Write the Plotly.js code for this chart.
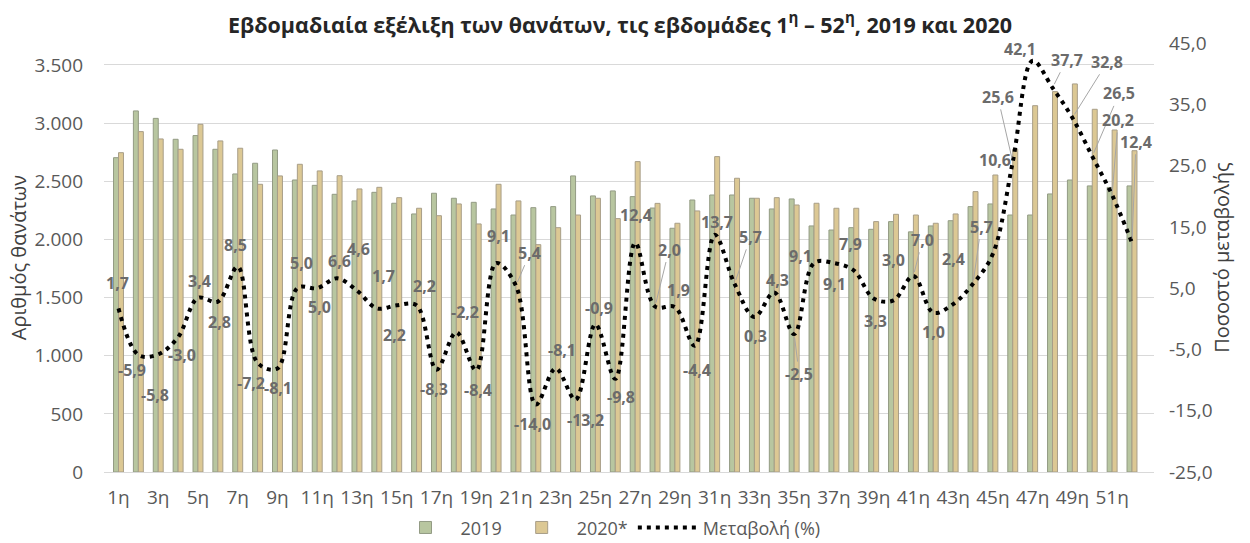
<!DOCTYPE html>
<html>
<head>
<meta charset="utf-8">
<script src="https://cdn.plot.ly/plotly-3.0.1.min.js"></script>
<style>html,body{margin:0;padding:0;background:#fff;}#chart{width:1250px;height:543px;}</style>
</head>
<body>
<div id="chart"></div>
<script>
// ---- data ----
const weeks = ['1η','2η','3η','4η','5η','6η','7η','8η','9η','10η','11η','12η','13η','14η','15η','16η','17η','18η','19η','20η','21η','22η','23η','24η','25η','26η','27η','28η','29η','30η','31η','32η','33η','34η','35η','36η','37η','38η','39η','40η','41η','42η','43η','44η','45η','46η','47η','48η','49η','50η','51η','52η'];
const deaths2019 = [2703,3105,3041,2861,2893,2775,2563,2655,2769,2511,2465,2388,2331,2405,2311,2219,2397,2354,2319,2262,2210,2273,2282,2546,2374,2417,2368,2270,2096,2339,2382,2382,2354,2262,2348,2116,2081,2101,2087,2153,2065,2116,2161,2282,2305,2210,2210,2391,2511,2460,2447,2460];
const deaths2020 = [2746,2927,2864,2775,2990,2847,2784,2474,2546,2646,2589,2548,2434,2448,2359,2268,2204,2305,2133,2474,2331,1955,2101,2210,2354,2179,2669,2310,2139,2245,2712,2526,2354,2359,2296,2311,2268,2268,2153,2216,2210,2139,2219,2411,2554,2776,3150,3271,3337,3119,2941,2763];
const changePct = [1.7,-5.9,-5.8,-3.0,3.4,2.8,8.5,-7.2,-8.1,5.0,5.0,6.6,4.6,1.7,2.2,2.2,-8.3,-2.2,-8.4,9.1,5.4,-14.0,-8.1,-13.2,-0.9,-9.8,12.4,2.0,1.9,-4.4,13.7,5.7,0.3,4.3,-2.5,9.1,9.1,7.9,3.3,3.0,7.0,1.0,2.4,5.7,10.6,25.6,42.1,37.7,32.8,26.5,20.2,12.4];
const leftTicks = [0,500,1000,1500,2000,2500,3000,3500];
const rightTicks = [-25,-15,-5,5,15,25,35,45];
const seriesNames = ['2019','2020*','Μεταβολή (%)'];
const titleText = 'Εβδομαδιαία εξέλιξη των θανάτων, τις εβδομάδες 1<sup>η</sup> – 52<sup>η</sup>, 2019 και 2020';
const yTitle = 'Αριθμός θανάτων';
const y2Title = 'Ποσοστό μεταβολής';

// ---- label placement (pixel nudges: dx, dy down, leader line) ----
const labelNudge = [
 [-1,-25,0],[-6,15,0],[-3,41,0],[4,18,0],[2,-17,0],[2,20,0],[-2,-22,0],[-7,20,0],[1,20,0],[4,-25,0],
 [2,19,0],[2,-17,0],[2,-42,0],[7,-32,0],[-2,30,0],[8,-19,0],[-2,19,0],[9,-20,0],[2,20,0],[2,-27,0],
 [14,-33,1],[-3,19,0],[6,-18,0],[10,20,0],[4,-16,0],[6,18,0],[1,-28,0],[14,-57,1],[4,-17,0],[2,24,0],
 [2,-13,0],[16,-47,1],[1,19,0],[3,-12,0],[5,40,1],[-14,-7,0],[1,21,0],[-3,-26,0],[2,22,0],[0,-40,0],
 [9,-36,1],[0,19,0],[0,-45,0],[8,-57,1],[2,-94,0],[-15,-65,1],[-13,-12,0],[14,-28,1],[35,-56,1],[27,-63,1],
 [6,-75,1],[4,-101,1]
];

const fmt1 = v => v.toFixed(1).replace('.', ',');
const thousands = v => v >= 1000 ? Math.floor(v/1000) + '.' + String(v%1000).padStart(3,'0') : String(v);
const FONT = 'Open Sans, sans-serif';
const labelFont = {family:FONT, size:16, color:'#6b6b6b', weight:'bold'};

const annotations = changePct.map((v,i) => {
  const [dx,dy,lead] = labelNudge[i];
  const base = {x: weeks[i], y: v, xref:'x', yref:'y2', text: fmt1(v), font: labelFont};
  if (lead) {
    return Object.assign(base, {showarrow:true, ax:dx, ay:dy, arrowhead:0, arrowwidth:1, arrowcolor:'#a6a6a6', standoff:4});
  }
  return Object.assign(base, {showarrow:false, xshift:dx, yshift:-dy});
});

const traces = [
  {type:'bar', name:seriesNames[0], x:weeks, y:deaths2019, marker:{color:'#b8c6a0', line:{color:'#939b84', width:1}}, yaxis:'y'},
  {type:'bar', name:seriesNames[1], x:weeks, y:deaths2020, marker:{color:'#dcc894', line:{color:'#a89e88', width:1}}, yaxis:'y'},
  {type:'scatter', mode:'lines', name:seriesNames[2], x:weeks, y:changePct, yaxis:'y2', line:{color:'#000', width:4, dash:'4px,5px', shape:'spline', smoothing:1}}
];

const tickFont = {family:FONT, size:19, color:'#595959'};

const layout = {
  width:1250, height:543,
  margin:{l:104, r:96, t:43, b:71, autoexpand:false},
  paper_bgcolor:'#fff', plot_bgcolor:'#fff',
  separators:',.',
  title:{text:titleText, x:0.496, xanchor:'center', y:0.954, yanchor:'middle', font:{family:FONT, size:21.5, color:'#262626', weight:'bold'}},
  barmode:'group', bargap:0.5, bargroupgap:0,
  showlegend:true,
  legend:{orientation:'h', x:0.48, xanchor:'center', y:-0.13, yanchor:'middle', font:{family:FONT, size:18, color:'#595959'}, traceorder:'normal', itemwidth:60},
  xaxis:{type:'category', tickmode:'linear', tick0:0, dtick:2, tickfont:tickFont, showgrid:false, showline:true, linecolor:'#d9d9d9', linewidth:1, ticks:'', ticklabelstandoff:8, automargin:false},
  yaxis:{range:[0, 3689], tickvals:leftTicks, ticktext:leftTicks.map(thousands), tickfont:tickFont, showgrid:true, gridcolor:'#d9d9d9', gridwidth:1, zeroline:false, ticks:'', ticklabelstandoff:20, automargin:false,
         title:{text:yTitle, font:{family:FONT, size:20, color:'#404040'}, standoff:2}},
  yaxis2:{overlaying:'y', side:'right', range:[-25,45], tickvals:rightTicks, ticktext:rightTicks.map(fmt1), tickfont:tickFont, showgrid:false, zeroline:false, ticks:'', ticklabelstandoff:14, automargin:false,
          title:{text:y2Title, font:{family:FONT, size:20, color:'#404040'}, standoff:3}},
  annotations: annotations
};

Plotly.newPlot('chart', traces, layout, {displayModeBar:false, staticPlot:true});
</script>
</body>
</html>
